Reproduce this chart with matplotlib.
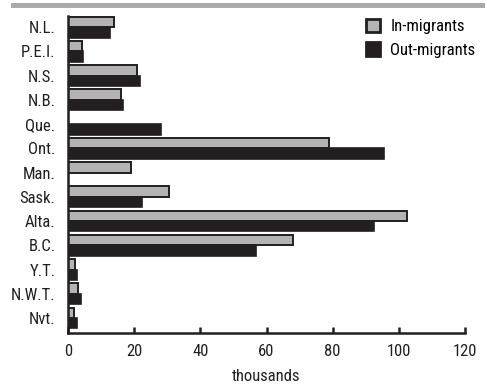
import matplotlib
matplotlib.use("Agg")
import matplotlib.pyplot as plt
from matplotlib.patches import Rectangle, Patch
from matplotlib import font_manager
import numpy as np

provinces = ["N.L.", "P.E.I.", "N.S.", "N.B.", "Que.", "Ont.", "Man.",
             "Sask.", "Alta.", "B.C.", "Y.T.", "N.W.T.", "Nvt."]
in_migrants = [13.9, 4.2, 21.0, 15.9, 0.0, 78.9, 19.0, 30.5, 102.4, 68.1, 2.0, 3.1, 1.7]
out_migrants = [12.7, 4.4, 21.8, 16.7, 28.2, 95.6, 0.0, 22.4, 92.4, 56.7, 2.6, 3.9, 2.6]
xticks = [0, 20, 40, 60, 80, 100, 120]

available = {f.name for f in font_manager.fontManager.ttflist}
fams = [f for f in ['Liberation Sans Narrow', 'Roboto Condensed', 'Open Sans Condensed',
                    'Liberation Sans'] if f in available]
plt.rcParams['font.family'] = fams + ['DejaVu Sans']
narrow = fams and fams[0] != 'Liberation Sans'
fs = 12 if narrow else 10.5

W, H = 487, 386
fig = plt.figure(figsize=(W / 100, H / 100), dpi=100)
ax = fig.add_axes([68 / W, 1 - 333 / H, (465 - 68) / W, (333 - 16) / H])

gray = "#b4b4b4"
black = "#231f20"
y = np.arange(len(provinces))
h = 0.43
ax.barh(y - h / 2, in_migrants, height=h, color=gray, edgecolor=black, linewidth=1.4)
ax.barh(y + h / 2, out_migrants, height=h, color=black, edgecolor=black, linewidth=1.2)

ax.set_ylim(12.62, -0.46)
ax.set_xlim(0, 120)
ax.set_yticks(y)
ax.set_yticklabels(provinces, fontsize=fs, color="#231f20")
ax.set_xticks(xticks)
ax.set_xticklabels([str(t) for t in xticks], fontsize=fs, color="#231f20")
ax.tick_params(axis='y', length=0, pad=9)
ax.tick_params(axis='x', direction='in', length=4, width=1.8, color=black, pad=8)
for s in ['top', 'right']:
    ax.spines[s].set_visible(False)
for s in ['left', 'bottom']:
    ax.spines[s].set_linewidth(1.8)
    ax.spines[s].set_color(black)
ax.set_xlabel("thousands", fontsize=fs, color="#231f20", labelpad=7)

handles = [Patch(facecolor=gray, edgecolor=black, linewidth=2.0, label="In-migrants"),
           Patch(facecolor=black, edgecolor=black, linewidth=2.0, label="Out-migrants")]
fig.legend(handles=handles, loc='upper right', bbox_to_anchor=(482 / W, 1 - 12 / H),
           frameon=False, fontsize=fs, handlelength=0.85, handleheight=0.85,
           handletextpad=0.6, labelspacing=0.5, borderaxespad=0)

fig.add_artist(Rectangle((11 / W, 1 - 8.3 / H), (485 - 11) / W, 5 / H,
                         transform=fig.transFigure, color="#aaaaaa", lw=0))

fig.savefig("out.png", dpi=100)
